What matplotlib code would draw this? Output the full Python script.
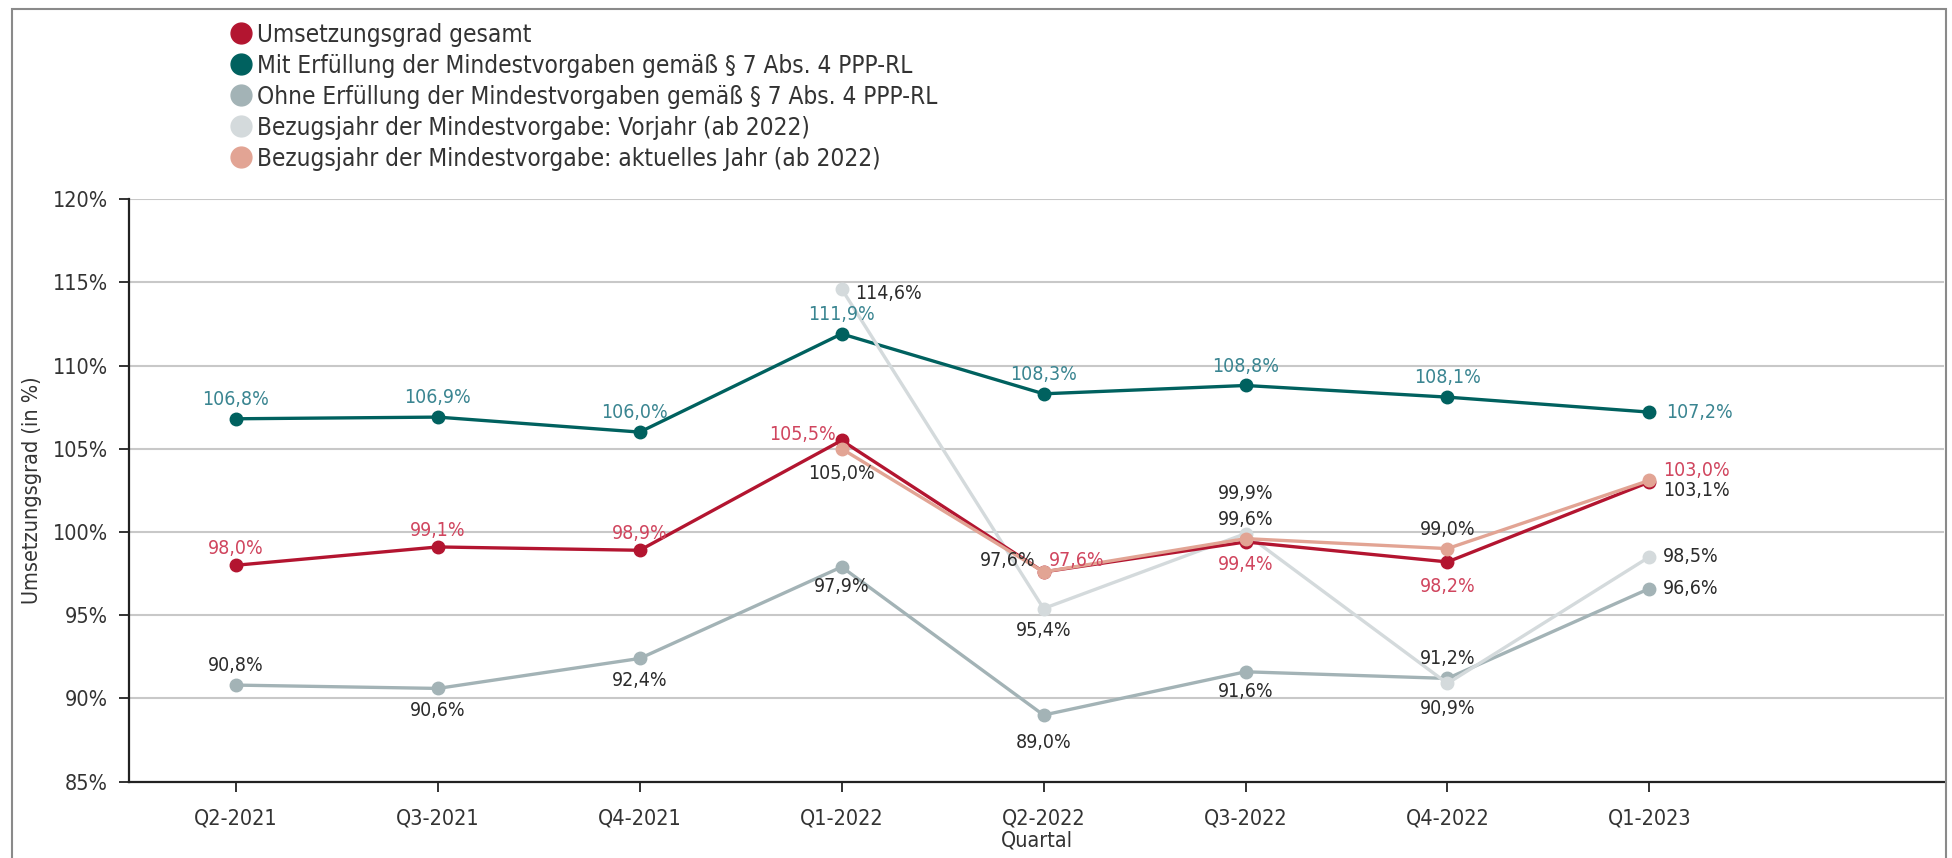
import numpy as np
import matplotlib.pyplot as plt
from matplotlib.patches import Rectangle

plt.rcParams['font.family'] = ['DejaVu Sans']
plt.rcParams['font.stretch'] = 'condensed'

# Daten
quartale = ['Q2-2021', 'Q3-2021', 'Q4-2021', 'Q1-2022', 'Q2-2022', 'Q3-2022', 'Q4-2022', 'Q1-2023']
gesamt = [98.0, 99.1, 98.9, 105.5, 97.6, 99.4, 98.2, 103.0]
mit = [106.8, 106.9, 106.0, 111.9, 108.3, 108.8, 108.1, 107.2]
ohne = [90.8, 90.6, 92.4, 97.9, 89.0, 91.6, 91.2, 96.6]
vorjahr = [np.nan, np.nan, np.nan, 114.6, 95.4, 99.9, 90.9, 98.5]
aktuell = [np.nan, np.nan, np.nan, 105.0, 97.6, 99.6, 99.0, 103.1]

namen = ['Umsetzungsgrad gesamt',
         'Mit Erfüllung der Mindestvorgaben gemäß § 7 Abs. 4 PPP-RL',
         'Ohne Erfüllung der Mindestvorgaben gemäß § 7 Abs. 4 PPP-RL',
         'Bezugsjahr der Mindestvorgabe: Vorjahr (ab 2022)',
         'Bezugsjahr der Mindestvorgabe: aktuelles Jahr (ab 2022)']

c_rot = '#B31530'
c_teal = '#00615F'
c_grau = '#A3B3B6'
c_hell = '#D4DADC'
c_lachs = '#E2A494'
c_dunkel = '#2B2B2B'
c_rot_txt = '#D0455E'
c_teal_txt = '#3A8591'

# Beschriftungspositionen (dx, dy in Punkten, ha)
pos_gesamt = [(0, 12, 'center'), (0, 12, 'center'), (0, 12, 'center'), (-4, 4, 'right'),
              (4, 8, 'left'), (0, -16, 'center'), (0, -18, 'center'), (10, 8, 'left')]
pos_mit = [(0, 14, 'center'), (0, 14, 'center'), (-4, 14, 'center')] + [(0, 14, 'center')] * 4 + [(12, 0, 'left')]
pos_ohne = [(0, 14, 'center'), (0, -16, 'center'), (0, -16, 'center'), (0, -14, 'center'),
            (0, -20, 'center'), (0, -14, 'center'), (0, 14, 'center'), (10, 0, 'left')]
pos_vorjahr = [None] * 3 + [(10, -3, 'left'), (0, -16, 'center'), (0, 29, 'center'),
                            (0, -18, 'center'), (10, 0, 'left')]
pos_aktuell = [None] * 3 + [(0, -18, 'center'), (-6, 8, 'right'), (0, 14, 'center'),
                            (0, 14, 'center'), (10, -7, 'left')]

fig = plt.figure(figsize=(19.52, 8.58), dpi=100)
ax = fig.add_axes([0.066, 0.089, 0.93, 0.679])
x = np.arange(len(quartale))

serien = [(mit, c_teal, c_teal_txt, pos_mit),
          (ohne, c_grau, c_dunkel, pos_ohne),
          (vorjahr, c_hell, c_dunkel, pos_vorjahr),
          (gesamt, c_rot, c_rot_txt, pos_gesamt),
          (aktuell, c_lachs, c_dunkel, pos_aktuell)]

for werte, farbe, txtfarbe, pos in serien:
    w = np.array(werte, dtype=float)
    ax.plot(x, w, color=farbe, lw=2.4, marker='o', markersize=9, zorder=3)
    for xi, v, p in zip(x, w, pos):
        if np.isnan(v) or p is None:
            continue
        dx, dy, ha = p
        ax.annotate(f'{v:.1f}%'.replace('.', ','), (xi, v), xytext=(dx, dy),
                    textcoords='offset points', ha=ha, va='center',
                    fontsize=14, color=txtfarbe, zorder=4)

ax.set_ylim(85, 120)
ax.set_yticks(np.arange(85, 121, 5))
ax.set_yticklabels([f'{t}%' for t in range(85, 121, 5)])
ax.set_xlim(-0.53, 8.46)
ax.set_xticks(x)
ax.set_xticklabels(quartale)
ax.grid(axis='y', color='#C8C8C8', lw=1.5)
ax.set_axisbelow(True)
for s in ['top', 'right']:
    ax.spines[s].set_visible(False)
for s in ['left', 'bottom']:
    ax.spines[s].set_linewidth(1.6)
    ax.spines[s].set_color('#222222')
ax.tick_params(axis='both', labelsize=15.5, colors='#333333', length=7, width=1.4, pad=8)
ax.tick_params(axis='x', pad=12)
ax.set_xlabel('Quartal', fontsize=15.5, color='#333333', labelpad=2)
ax.set_ylabel('Umsetzungsgrad (in %)', fontsize=15.5, color='#333333', labelpad=8)

# Legende
farben = [c_rot, c_teal, c_grau, c_hell, c_lachs]
handles = [plt.Line2D([], [], ls='none', marker='o', markersize=15, color=f) for f in farben]
fig.legend(handles, namen, loc='upper left', bbox_to_anchor=(0.108, 0.995), frameon=False,
           fontsize=17.5, handletextpad=0.15, labelspacing=0.29, handlelength=1.0,
           borderpad=0.25, labelcolor='#333333')

# Rahmen
fig.patches.append(Rectangle((0.006, -0.05), 0.991, 1.04, transform=fig.transFigure,
                             fill=False, ec='#8A8A8A', lw=1.5))

fig.savefig('out.png', dpi=100)
